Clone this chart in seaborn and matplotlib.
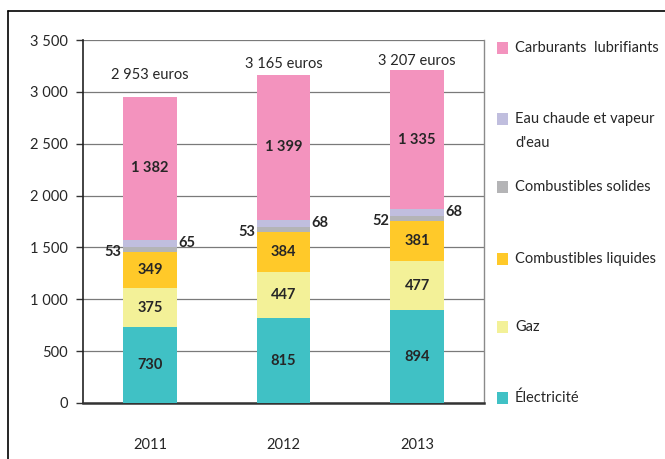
import numpy as np
import pandas as pd
import seaborn as sns
import matplotlib.pyplot as plt
from matplotlib.lines import Line2D
from matplotlib.patches import Rectangle

sns.set_style("white")
plt.rcParams['font.family'] = ['Lato', 'DejaVu Sans']

years = ["2011", "2012", "2013"]
categories = ["Électricité", "Gaz", "Combustibles liquides",
              "Combustibles solides", "Eau chaude et vapeur\nd'eau",
              "Carburants  lubrifiants"]
electricite = [730, 815, 894]
gaz = [375, 447, 477]
liquides = [349, 384, 381]
solides = [53, 53, 52]
eau = [65, 68, 68]
carburants = [1382, 1399, 1335]
totals = ["2 953 euros", "3 165 euros", "3 207 euros"]
colors = ["#40C1C5", "#F3F198", "#FFC929", "#B4B4B6", "#C0BEDE", "#F393BE"]

series = [electricite, gaz, liquides, solides, eau, carburants]
df = pd.DataFrame(series, index=categories, columns=years).T
cum = df.cumsum(axis=1)

W, H = 665, 459
fig = plt.figure(figsize=(W / 100, H / 100), dpi=100)
ax = fig.add_axes([83 / W, 1 - 403 / H, (484 - 83) / W, (403 - 40) / H])

# stacked bars: draw tallest cumulative first, then overlay lower ones
for i in range(len(categories) - 1, -1, -1):
    sns.barplot(x=years, y=cum.iloc[:, i].values, color=colors[i],
                width=0.4, saturation=1, linewidth=0, ax=ax, zorder=3)

fmt = lambda v: f"{v:,}".replace(",", " ")

for j in range(len(years)):
    base = 0
    for i, cat in enumerate(categories):
        v = df.iloc[j, i]
        mid = base + v / 2
        if i in (0, 1, 2, 5):
            ax.text(j, mid, fmt(v), ha="center", va="center",
                    fontsize=10.5, fontweight="bold", zorder=5)
        elif i == 3:
            ax.text(j - 0.21, mid - 25, fmt(v), ha="right", va="center",
                    fontsize=10.5, fontweight="bold", zorder=5)
        else:
            ax.text(j + 0.21, mid, fmt(v), ha="left", va="center",
                    fontsize=10.5, fontweight="bold", zorder=5)
        base += v

tot_off = [15, 4, 2]
for j in range(len(years)):
    ax.annotate(totals[j], (j, cum.iloc[j, -1]), xytext=(0, tot_off[j]),
                textcoords="offset pixels", ha="center", va="bottom",
                fontsize=10.5)

ax.set_ylim(0, 3500)
ax.set_xlim(-0.5, 2.5)
ax.set_yticks(np.arange(0, 3501, 500))
ax.set_yticklabels([fmt(v) for v in range(0, 3501, 500)], fontsize=10.5)
ax.yaxis.grid(True, color="#7a7a7a", linewidth=0.9, zorder=0)
ax.set_axisbelow(True)
ax.set_xticks([0, 1, 2])
ax.set_xticklabels(years, fontsize=10.5)
ax.set_xticks([-0.5, 0.5, 1.5, 2.5], minor=True)
ax.tick_params(axis="x", which="major", length=0, pad=25)
ax.tick_params(axis="x", which="minor", length=5, width=1, color="#333333")
ax.tick_params(axis="y", length=5, width=1, color="#333333", pad=6, left=True)
ax.set_xlabel("")
ax.set_ylabel("")

ax.spines["top"].set_visible(False)
ax.spines["left"].set_color("#222222")
ax.spines["left"].set_linewidth(1.2)
ax.spines["bottom"].set_color("#333333")
ax.spines["bottom"].set_linewidth(1.8)
ax.spines["right"].set_color("#8a8a8a")
ax.spines["right"].set_linewidth(1)

# legend drawn by hand to get the wide, uneven spacing of the original
leg_y = [398, 327, 259, 187, 119, 48]
for i, cat in enumerate(categories):
    y = leg_y[i]
    fig.add_artist(Rectangle((497 / W, 1 - (y + 6) / H), 11 / W, 12 / H,
                             facecolor=colors[i], edgecolor="none",
                             transform=fig.transFigure))
    lines = cat.split("\n")
    for k, line in enumerate(lines):
        fig.text(515 / W, 1 - (y + 24 * k) / H, line, ha="left", va="center",
                 fontsize=10.5)

fig.add_artist(Line2D([8 / W, 1], [1 - 11 / H] * 2, color="black", linewidth=1.2))
fig.add_artist(Line2D([8 / W] * 2, [0, 1 - 11 / H], color="black", linewidth=1.2))

fig.savefig("out.png", dpi=100)
